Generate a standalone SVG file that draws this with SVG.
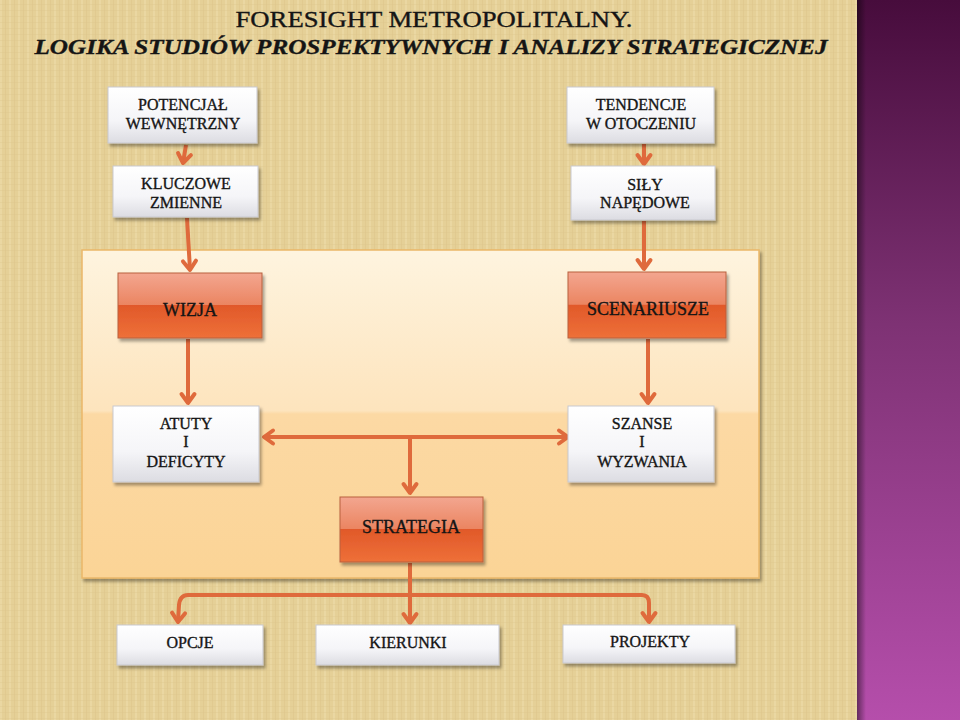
<svg xmlns="http://www.w3.org/2000/svg" width="960" height="720" viewBox="0 0 960 720">
<defs>
<style>
.t{font-family:"Liberation Serif","Times New Roman",serif;fill:#151515;stroke:#151515;stroke-width:0.35;text-anchor:middle}
.lbl{font-size:16px}
.big{font-size:18px}
.wbox{fill:url(#gWhite);stroke:#c9c9cf;stroke-width:1;filter:url(#sh)}
.obox{fill:url(#gOrange);stroke:#b9603e;stroke-width:1;filter:url(#sh)}
.c{fill:none;stroke:#df6a3c;stroke-width:4;stroke-linejoin:round}
.ah{marker-end:url(#arr)}
</style>
<linearGradient id="gWhite" x1="0" y1="0" x2="0" y2="1">
<stop offset="0" stop-color="#ffffff"/>
<stop offset="0.6" stop-color="#f5f5f8"/>
<stop offset="1" stop-color="#dcdce2"/>
</linearGradient>
<linearGradient id="gOrange" x1="0" y1="0" x2="0" y2="1">
<stop offset="0" stop-color="#f3a690"/>
<stop offset="0.49" stop-color="#eb8561"/>
<stop offset="0.5" stop-color="#e1592a"/>
<stop offset="1" stop-color="#ee7038"/>
</linearGradient>
<linearGradient id="gPanel" x1="0" y1="0" x2="0" y2="1">
<stop offset="0" stop-color="#fef4df"/>
<stop offset="0.49" stop-color="#fde4bd"/>
<stop offset="0.5" stop-color="#fcd9a4"/>
<stop offset="1" stop-color="#fbd496"/>
</linearGradient>
<linearGradient id="gPurple" x1="0" y1="0" x2="0" y2="1">
<stop offset="0" stop-color="#470c3c"/>
<stop offset="0.45" stop-color="#7e3274"/>
<stop offset="1" stop-color="#b54eab"/>
</linearGradient>
<linearGradient id="gEdge" x1="0" y1="0" x2="1" y2="0">
<stop offset="0" stop-color="#000" stop-opacity="0.45"/>
<stop offset="1" stop-color="#000" stop-opacity="0"/>
</linearGradient>
<pattern id="tex" width="9" height="6" patternUnits="userSpaceOnUse">
<rect width="9" height="6" fill="#e5d097"/>
<rect x="0" y="0" width="2" height="6" fill="#eddcaa" opacity="0.6"/>
<rect x="5" y="0" width="1" height="6" fill="#d8c083" opacity="0.35"/>
<rect x="0" y="4" width="9" height="1" fill="#dbc58b" opacity="0.35"/>
</pattern>
<filter id="sh" x="-10%" y="-10%" width="130%" height="140%">
<feDropShadow dx="2" dy="3" stdDeviation="1.8" flood-color="#000" flood-opacity="0.35"/>
</filter>
<marker id="arr" markerUnits="userSpaceOnUse" viewBox="-14 -10 18 20" refX="0" refY="0" markerWidth="18" markerHeight="20" orient="auto-start-reverse">
<path d="M-9,-6.5 L0,0 L-9,6.5" fill="none" stroke="#df6a3c" stroke-width="4" stroke-linecap="round" stroke-linejoin="round"/>
</marker>
</defs>

<rect x="0" y="0" width="960" height="720" fill="url(#tex)"/>
<rect x="857" y="0" width="103" height="720" fill="url(#gPurple)"/>
<rect x="857" y="0" width="9" height="720" fill="url(#gEdge)"/>

<g id="title">
<text class="t" x="434" y="27" font-size="23" stroke-width="0.5" textLength="397" lengthAdjust="spacingAndGlyphs">FORESIGHT METROPOLITALNY.</text>
<text class="t" x="431" y="54" font-size="20" font-weight="bold" font-style="italic" stroke-width="0" textLength="793" lengthAdjust="spacingAndGlyphs">LOGIKA STUDIÓW PROSPEKTYWNYCH I ANALIZY STRATEGICZNEJ</text>
</g>

<g id="panel">
<rect x="82" y="250" width="677" height="328" fill="url(#gPanel)" stroke="#eab768" stroke-width="1.5" filter="url(#sh)"/>
</g>

<g id="connectors">
<path class="c ah" d="M186,145 L183,163"/>
<path class="c ah" d="M187,218 L190,270"/>
<path class="c ah" d="M644,144 L644,164"/>
<path class="c ah" d="M644,221 L644,269"/>
<path class="c ah" d="M188,339 L188,403"/>
<path class="c ah" d="M648,339 L648,403"/>
<path class="c" d="M264,437 L568,437" marker-start="url(#arr)" marker-end="url(#arr)"/>
<path class="c ah" d="M410,437 L410,493"/>
<path class="c ah" d="M410,563 L410,623"/>
<path class="c ah" d="M410,595 H188 Q180,595 179,605 L178,622"/>
<path class="c ah" d="M410,595 H642 Q649,595 649,603 L649,622"/>
</g>

<g id="potencjal">
<rect class="wbox" x="108" y="87" width="149" height="56"/>
<text class="t lbl" x="183" y="110">POTENCJAŁ</text>
<text class="t lbl" x="183" y="129">WEWNĘTRZNY</text>
</g>
<g id="kluczowe">
<rect class="wbox" x="113" y="166" width="145" height="51"/>
<text class="t lbl" x="186" y="189">KLUCZOWE</text>
<text class="t lbl" x="186" y="208">ZMIENNE</text>
</g>
<g id="tendencje">
<rect class="wbox" x="567" y="87" width="147" height="56"/>
<text class="t lbl" x="641" y="110">TENDENCJE</text>
<text class="t lbl" x="641" y="129">W OTOCZENIU</text>
</g>
<g id="sily">
<rect class="wbox" x="571" y="166" width="144" height="54"/>
<text class="t lbl" x="645" y="190">SIŁY</text>
<text class="t lbl" x="645" y="208">NAPĘDOWE</text>
</g>
<g id="wizja">
<rect class="obox" x="118" y="273" width="144" height="65"/>
<text class="t big" x="190" y="316">WIZJA</text>
</g>
<g id="scenariusze">
<rect class="obox" x="568" y="272" width="158" height="66"/>
<text class="t big" x="648" y="315">SCENARIUSZE</text>
</g>
<g id="atuty">
<rect class="wbox" x="113" y="406" width="146" height="76"/>
<text class="t lbl" x="186" y="429">ATUTY</text>
<text class="t lbl" x="186" y="447">I</text>
<text class="t lbl" x="186" y="467">DEFICYTY</text>
</g>
<g id="szanse">
<rect class="wbox" x="568" y="406" width="146" height="76"/>
<text class="t lbl" x="642" y="429">SZANSE</text>
<text class="t lbl" x="642" y="447">I</text>
<text class="t lbl" x="642" y="467">WYZWANIA</text>
</g>
<g id="strategia">
<rect class="obox" x="340" y="497" width="143" height="65"/>
<text class="t big" x="411" y="533">STRATEGIA</text>
</g>
<g id="opcje">
<rect class="wbox" x="117" y="625" width="146" height="40"/>
<text class="t lbl" x="190" y="648">OPCJE</text>
</g>
<g id="kierunki">
<rect class="wbox" x="316" y="625" width="183" height="40"/>
<text class="t lbl" x="408" y="648">KIERUNKI</text>
</g>
<g id="projekty">
<rect class="wbox" x="563" y="625" width="172" height="38"/>
<text class="t lbl" x="650" y="647">PROJEKTY</text>
</g>
</svg>
